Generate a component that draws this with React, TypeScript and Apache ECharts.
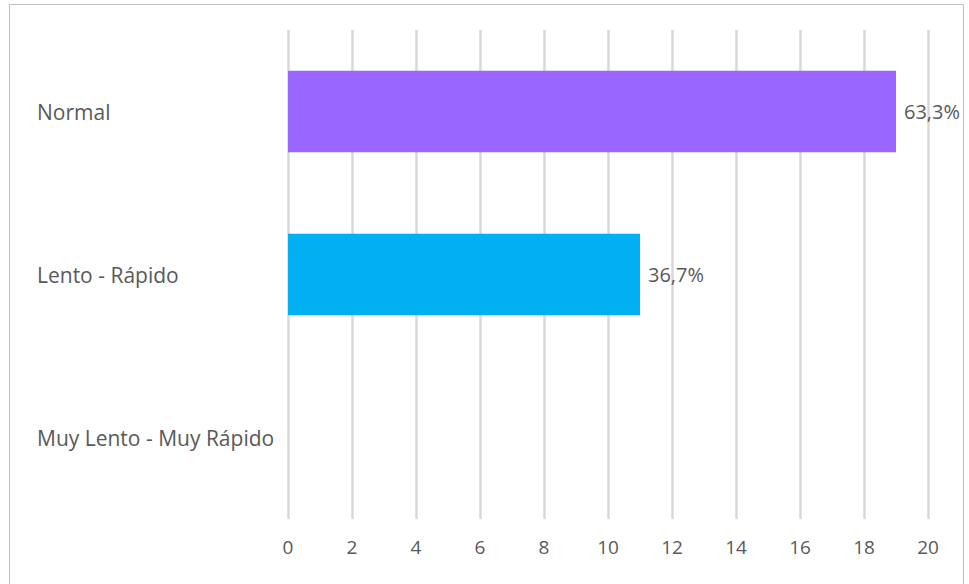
import React, { useEffect, useRef } from "react";
import * as echarts from "echarts";

const categories = ["Muy Lento - Muy Rápido", "Lento - Rápido", "Normal"];
const counts = [0, 11, 19];
const percentLabels = ["", "36,7%", "63,3%"];
const barColors = ["#A5A5A5", "#00B0F0", "#9966FF"];
const xTicks = { min: 0, max: 20, interval: 2 };

export default function App() {
  const ref = useRef<HTMLDivElement>(null);
  useEffect(() => {
    if (!ref.current) return;
    const chart = echarts.init(ref.current, null, { renderer: "svg" });
    const font = "Open Sans";
    chart.setOption({
      animation: false,
      backgroundColor: "#ffffff",
      graphic: [
        {
          type: "rect",
          shape: { x: 9.5, y: 4.5, width: 954, height: 590 },
          style: { fill: "none", stroke: "#BFBFBF", lineWidth: 1 },
          silent: true,
          z: -1,
        },
      ],
      grid: { left: 288, right: 41, top: 30, bottom: 65, containLabel: false },
      xAxis: {
        type: "value",
        min: xTicks.min,
        max: xTicks.max,
        interval: xTicks.interval,
        axisLine: { show: false },
        axisTick: { show: false },
        splitLine: { show: true, lineStyle: { color: "#D9D9D9", width: 2.5 } },
        axisLabel: { color: "#595959", fontFamily: font, fontSize: 19, margin: 18 },
      },
      yAxis: {
        type: "category",
        data: categories,
        axisLine: { show: false },
        axisTick: { show: false },
        axisLabel: {
          color: "#595959",
          fontFamily: font,
          fontSize: 21,
          align: "left",
          margin: 251,
        },
      },
      series: [
        {
          type: "bar",
          barWidth: "50%",
          data: counts.map((v, i) => ({
            value: v,
            itemStyle: { color: barColors[i] },
            label: {
              show: percentLabels[i] !== "",
              formatter: percentLabels[i],
            },
          })),
          label: {
            show: true,
            position: "right",
            distance: 8,
            color: "#595959",
            fontFamily: font,
            fontSize: 20,
          },
        },
      ],
    });
    return () => chart.dispose();
  }, []);
  return (
    <div
      ref={ref}
      style={{ position: "fixed", left: 0, top: 0, width: 969, height: 584 }}
    />
  );
}
